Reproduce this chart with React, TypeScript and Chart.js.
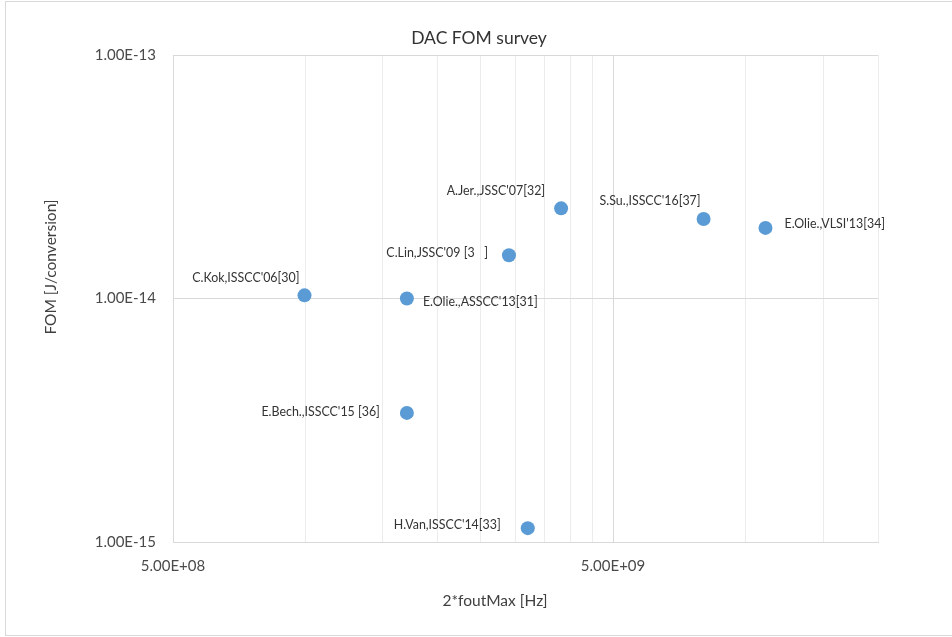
import React, { useEffect, useRef } from "react";
import { Chart, registerables } from "chart.js";

Chart.register(...registerables);

const chartTitle = "DAC FOM survey";
const xAxisTitle = "2*foutMax [Hz]";
const yAxisTitle = "FOM [J/conversion]";

const pointLabels = [
  "C.Kok,ISSCC'06[30]",
  "E.Olie.,ASSCC'13[31]",
  "E.Bech.,ISSCC'15 [36]",
  "C.Lin,JSSC'09 [3   ]",
  "A.Jer.,JSSC'07[32]",
  "S.Su.,ISSCC'16[37]",
  "E.Olie.,VLSI'13[34]",
  "H.Van,ISSCC'14[33]",
];
const freqHz = [0.995e9, 1.7e9, 1.7e9, 2.9e9, 3.81e9, 8.03e9, 1.11e10, 3.2e9];
const fomJ = [1.03e-14, 1.0e-14, 3.39e-15, 1.505e-14, 2.345e-14, 2.12e-14, 1.95e-14, 1.14e-15];

const xTickValues = [5e8, 1e9, 1.5e9, 2e9, 2.5e9, 3e9, 3.5e9, 4e9, 4.5e9, 5e9, 1e10, 1.5e10, 2e10];
const xLabeledTicks = [5e8, 5e9];
const xMajorGrid = [5e9];
const yTickValues = [1e-15, 1e-14, 1e-13];

// label placement (layout only): alignment + offset from point centre
const labelPlacement = [
  { align: "right", dx: -5, dy: -17 },
  { align: "left", dx: 16, dy: 3 },
  { align: "right", dx: -27, dy: -1 },
  { align: "right", dx: -21, dy: -2 },
  { align: "right", dx: -16, dy: -17 },
  { align: "right", dx: -3, dy: -18 },
  { align: "left", dx: 19, dy: -4 },
  { align: "right", dx: -27, dy: -3 },
];

const FONT = "Lato, 'Open Sans', sans-serif";

function excelExp(v: number): string {
  const [m, e] = v.toExponential(2).split("e");
  const n = parseInt(e, 10);
  const sign = n < 0 ? "-" : "+";
  const abs = Math.abs(n);
  return `${m}E${sign}${abs < 10 ? "0" + abs : abs}`;
}

const textPlugin = {
  id: "textPlugin",
  beforeDraw(chart: any) {
    const ctx = chart.ctx;
    ctx.save();
    ctx.strokeStyle = "#d9d9d9";
    ctx.lineWidth = 1;
    ctx.strokeRect(5.5, 1.5, 960, 634);
    ctx.restore();
  },
  afterDraw(chart: any) {
    const ctx = chart.ctx;
    ctx.save();
    ctx.fillStyle = "#333333";
    ctx.textBaseline = "middle";
    ctx.textAlign = "center";
    ctx.font = `17.5px ${FONT}`;
    ctx.fillText(chartTitle, 479, 38);

    ctx.fillStyle = "#404040";
    ctx.font = `15.5px ${FONT}`;
    ctx.fillText(xAxisTitle, 495, 601);

    ctx.save();
    ctx.translate(51, 267);
    ctx.rotate(-Math.PI / 2);
    ctx.fillText(yAxisTitle, 0, 0);
    ctx.restore();

    const meta = chart.getDatasetMeta(0);
    ctx.font = `12.4px ${FONT}`;
    ctx.fillStyle = "#333333";
    meta.data.forEach((el: any, i: number) => {
      const p = labelPlacement[i];
      ctx.textAlign = p.align === "right" ? "right" : "left";
      ctx.fillText(pointLabels[i], el.x + p.dx, el.y + p.dy);
    });
    ctx.restore();
  },
};

export default function App() {
  const ref = useRef<HTMLCanvasElement>(null);

  useEffect(() => {
    if (!ref.current) return;
    const chart = new Chart(ref.current, {
      type: "scatter",
      data: {
        datasets: [
          {
            label: "FOM",
            data: freqHz.map((x, i) => ({ x, y: fomJ[i] })),
            backgroundColor: "#5b9bd5",
            borderColor: "#5b9bd5",
            borderWidth: 0,
            pointRadius: 7,
            pointHoverRadius: 7,
          },
        ],
      },
      options: {
        animation: false,
        responsive: true,
        maintainAspectRatio: false,
        events: [],
        layout: { padding: { left: 0, right: 74, top: 55, bottom: 0 } },
        plugins: {
          legend: { display: false },
          title: { display: false },
          tooltip: { enabled: false },
        },
        scales: {
          x: {
            type: "logarithmic",
            min: 5e8,
            max: 2e10,
            afterBuildTicks: (scale: any) => {
              scale.ticks = xTickValues.map((v) => ({ value: v }));
            },
            afterFit: (scale: any) => {
              scale.height = 95;
            },
            ticks: {
              autoSkip: false,
              maxRotation: 0,
              minRotation: 0,
              padding: 15,
              color: "#4a4a4a",
              font: { family: FONT, size: 15 },
              callback: (v: any) => (xLabeledTicks.includes(Number(v)) ? excelExp(Number(v)) : ""),
            },
            grid: {
              drawTicks: false,
              color: (c: any) =>
                c.tick && xMajorGrid.includes(c.tick.value) ? "#d9d9d9" : "#ececec",
            },
            border: { color: "#d9d9d9" },
          },
          y: {
            type: "logarithmic",
            min: 1e-15,
            max: 1e-13,
            afterBuildTicks: (scale: any) => {
              scale.ticks = yTickValues.map((v) => ({ value: v }));
            },
            afterFit: (scale: any) => {
              scale.width = 173;
            },
            ticks: {
              autoSkip: false,
              padding: 17,
              color: "#4a4a4a",
              font: { family: FONT, size: 15 },
              callback: (v: any) => excelExp(Number(v)),
            },
            grid: { drawTicks: false, color: "#d9d9d9" },
            border: { color: "#d9d9d9" },
          },
        },
      },
      plugins: [textPlugin],
    });
    return () => chart.destroy();
  }, []);

  return (
    <div style={{ position: "absolute", left: 0, top: 0, width: 952, height: 637 }}>
      <canvas ref={ref} />
    </div>
  );
}
